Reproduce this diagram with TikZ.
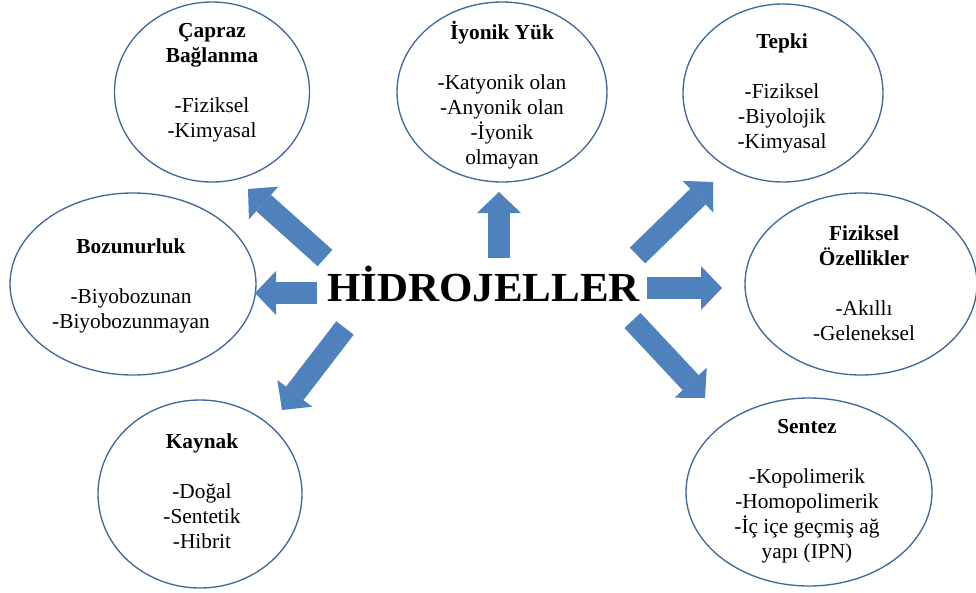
\documentclass[tikz,border=0pt]{standalone}
\usepackage{fontspec}
\setmainfont{Liberation Serif}
\usepackage{graphicx}
\usetikzlibrary{shapes.geometric,arrows.meta}
\definecolor{arrowblue}{HTML}{4F81BD}
\definecolor{rimblue}{HTML}{40689A}
\tikzset{
  bubble/.style={ellipse, draw=rimblue, line width=1pt, inner sep=0pt},
  bubtext/.style={inner sep=0pt, anchor=base, font=\fontsize{16pt}{18.75pt}\selectfont},
  blockarrow/.style={draw=arrowblue, line width=16.5pt, line cap=butt,
    -{Triangle[width=33pt,length=15.75pt,line width=0pt]}},
}
\begin{document}
\begin{tikzpicture}[x=0.75pt,y=-0.75pt]
\useasboundingbox (0,0) rectangle (976,593);
% ellipses
\node[bubble, minimum width={195*0.75pt}, minimum height={180*0.75pt}] (e1) at (212,92) {};
\node[bubble, minimum width={210*0.75pt}, minimum height={180*0.75pt}] (e2) at (502,92) {};
\node[bubble, minimum width={200*0.75pt}, minimum height={178*0.75pt}] (e3) at (783,93) {};
\node[bubble, minimum width={246*0.75pt}, minimum height={182*0.75pt}] (e4) at (133,284) {};
\node[bubble, minimum width={232*0.75pt}, minimum height={182*0.75pt}] (e5) at (861,284) {};
\node[bubble, minimum width={204*0.75pt}, minimum height={188*0.75pt}] (e6) at (200,494) {};
\node[bubble, minimum width={246*0.75pt}, minimum height={188*0.75pt}] (e7) at (809,492) {};
% texts
\node[bubtext] (t1) at (212,37) {\begin{tabular}[t]{@{}c@{}}\textbf{Çapraz}\\ \textbf{Bağlanma}\\ \\ -Fiziksel\\ -Kimyasal\end{tabular}};
\node[bubtext] (t2) at (502,39) {\begin{tabular}[t]{@{}c@{}}\textbf{İyonik Yük}\\ \\ -Katyonik olan\\ -Anyonik olan\\ -İyonik\\ olmayan\end{tabular}};
\node[bubtext] (t3) at (782,48.5) {\begin{tabular}[t]{@{}c@{}}\textbf{Tepki}\\ \\ -Fiziksel\\ -Biyolojik\\ -Kimyasal\end{tabular}};
\node[bubtext] (t4) at (131,253) {\begin{tabular}[t]{@{}c@{}}\textbf{Bozunurluk}\\ \\ -Biyobozunan\\ -Biyobozunmayan\end{tabular}};
\node[bubtext] (t5) at (864,240) {\begin{tabular}[t]{@{}c@{}}\textbf{Fiziksel}\\ \textbf{Özellikler}\\ \\ -Akıllı\\ -Geleneksel\end{tabular}};
\node[bubtext] (t6) at (202,448) {\begin{tabular}[t]{@{}c@{}}\textbf{Kaynak}\\ \\ -Doğal\\ -Sentetik\\ -Hibrit\end{tabular}};
\node[bubtext] (t7) at (807,433) {\begin{tabular}[t]{@{}c@{}}\textbf{Sentez}\\ \\ -Kopolimerik\\ -Homopolimerik\\ -İç içe geçmiş ağ\\ yapı (IPN)\end{tabular}};
% title
\node[inner sep=0pt, anchor=base] (title) at (483.5,301) {\fontsize{31pt}{36pt}\selectfont\bfseries\scalebox{1.04}[1]{HİDROJELLER}};
% arrow end points
\coordinate (sUp) at (499,258);   \coordinate (eUp) at (499,192);
\coordinate (sL) at (317,293);    \coordinate (eL) at (255,293);
\coordinate (sR) at (647,288);    \coordinate (eR) at (722,288);
\coordinate (sUL) at (325,258);   \coordinate (eUL) at (248,189);
\coordinate (sUR) at (637.5,255.5); \coordinate (eUR) at (713,182);
\coordinate (sLL) at (345,328);   \coordinate (eLL) at (282,410);
\coordinate (sLR) at (632.5,320.5); \coordinate (eLR) at (705,398);
\draw[blockarrow] (sUp) -- (eUp);
\draw[blockarrow] (sL) -- (eL);
\draw[blockarrow] (sR) -- (eR);
\draw[blockarrow] (sUL) -- (eUL);
\draw[blockarrow] (sUR) -- (eUR);
\draw[blockarrow] (sLL) -- (eLL);
\draw[blockarrow] (sLR) -- (eLR);
\end{tikzpicture}
\end{document}
